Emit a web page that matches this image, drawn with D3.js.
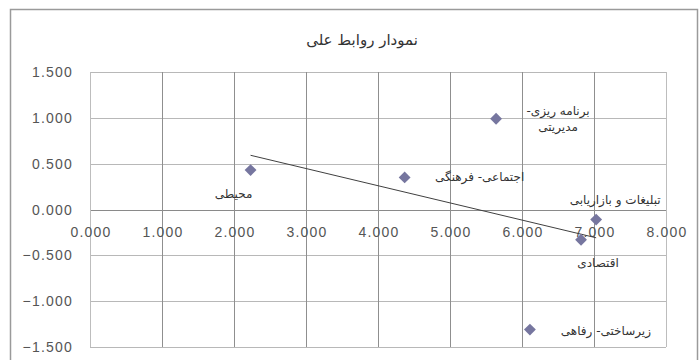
<!DOCTYPE html>
<html><head><meta charset="utf-8">
<script src="https://cdn.jsdelivr.net/npm/d3@7"></script>
<style>body{margin:0;background:#fff}svg{display:block}</style>
</head><body><svg id="c" width="700" height="360"></svg>
<script>
const title = "نمودار روابط علی";
const names = ["محیطی", "برنامه ریزی-\nمدیریتی", "اجتماعی- فرهنگی", "تبلیغات و بازاریابی", "اقتصادی", "زیرساختی- رفاهی"];
const xValues = [2.23, 5.64, 4.37, 7.03, 6.82, 6.11];
const yValues = [0.43, 0.99, 0.35, -0.11, -0.33, -1.31];
const xTicks = [0, 1, 2, 3, 4, 5, 6, 7, 8];
const yTicks = [-1.5, -1, -0.5, 0, 0.5, 1, 1.5];

// label placement (style, not data)
const place = {
  "محیطی": {dx: -17, dy: 28},
  "برنامه ریزی-\nمدیریتی": {dx: 62, dy: -4},
  "اجتماعی- فرهنگی": {dx: 75, dy: 4},
  "تبلیغات و بازاریابی": {dx: 19, dy: -16},
  "اقتصادی": {dx: 17, dy: 27},
  "زیرساختی- رفاهی": {dx: 76, dy: 5}
};

const svg = d3.select("#c");
const x = d3.scaleLinear().domain([0, 8]).range([90, 666]);
const y = d3.scaleLinear().domain([-1.5, 1.5]).range([347, 72]);

svg.append("rect").attr("x", 10.5).attr("y", 9.5).attr("width", 687).attr("height", 360)
  .attr("fill", "#fff").attr("stroke", "#9a9a9a").attr("stroke-width", 1.5);

svg.append("text").attr("x", 362).attr("y", 45).attr("text-anchor", "middle")
  .attr("font-family", "DejaVu Sans").attr("font-size", 15).attr("fill", "#333").text(title);

// gridlines
const g = svg.append("g");
g.selectAll("line.h").data(yTicks).join("line")
  .attr("x1", x(0)).attr("x2", x(8))
  .attr("y1", d => Math.round(y(d)) + 0.5).attr("y2", d => Math.round(y(d)) + 0.5)
  .attr("stroke", d => d === 0 ? "#8a8a8a" : "#b8b8b8").attr("stroke-width", 1.2);
g.selectAll("line.v").data(xTicks).join("line")
  .attr("y1", y(1.5)).attr("y2", y(-1.5))
  .attr("x1", d => Math.round(x(d)) + 0.5).attr("x2", d => Math.round(x(d)) + 0.5)
  .attr("stroke", d => (d === 0 || d === 8) ? "#bdbdbd" : "#8f8f8f").attr("stroke-width", 1);

// y tick labels
svg.append("g").selectAll("text").data(yTicks).join("text")
  .attr("x", 73).attr("y", d => y(d) + 5).attr("text-anchor", "end")
  .attr("font-family", "Liberation Sans").attr("font-size", 14).attr("letter-spacing", 1.2)
  .attr("fill", "#555").text(d => d3.format(".3f")(d));
// x tick labels
svg.append("g").selectAll("text").data(xTicks).join("text")
  .attr("x", d => x(d) + 1).attr("y", y(0) + 27).attr("text-anchor", "middle")
  .attr("font-family", "Liberation Sans").attr("font-size", 14).attr("letter-spacing", 1.2)
  .attr("fill", "#555").text(d => d3.format(".3f")(d));

// trendline (least squares)
const n = xValues.length;
const mx = d3.mean(xValues), my = d3.mean(yValues);
let sxy = 0, sxx = 0;
for (let i = 0; i < n; i++) { sxy += (xValues[i] - mx) * (yValues[i] - my); sxx += (xValues[i] - mx) ** 2; }
const slope = sxy / sxx, icpt = my - slope * mx;
const x0 = d3.min(xValues), x1 = d3.max(xValues);
svg.append("line").attr("x1", x(x0)).attr("y1", y(icpt + slope * x0))
  .attr("x2", x(x1)).attr("y2", y(icpt + slope * x1))
  .attr("stroke", "#404040").attr("stroke-width", 1);

const pts = names.map((nm, i) => ({nm, x: xValues[i], y: yValues[i]}));
svg.append("g").selectAll("path").data(pts).join("path")
  .attr("transform", d => `translate(${x(d.x)},${y(d.y)}) rotate(45)`)
  .attr("d", d3.symbol().type(d3.symbolSquare).size(70))
  .attr("fill", "#76769f");

const lbl = svg.append("g");
pts.forEach(d => {
  const p = place[d.nm];
  const lines = d.nm.split("\n");
  const t = lbl.append("text").attr("text-anchor", "middle")
    .attr("font-family", "DejaVu Sans").attr("font-size", 12).attr("fill", "#333")
    .attr("direction", "rtl");
  lines.forEach((ln, k) => {
    t.append("tspan").attr("x", x(d.x) + p.dx).attr("y", y(d.y) + p.dy + k * 16).text(ln);
  });
});
</script></body></html>
